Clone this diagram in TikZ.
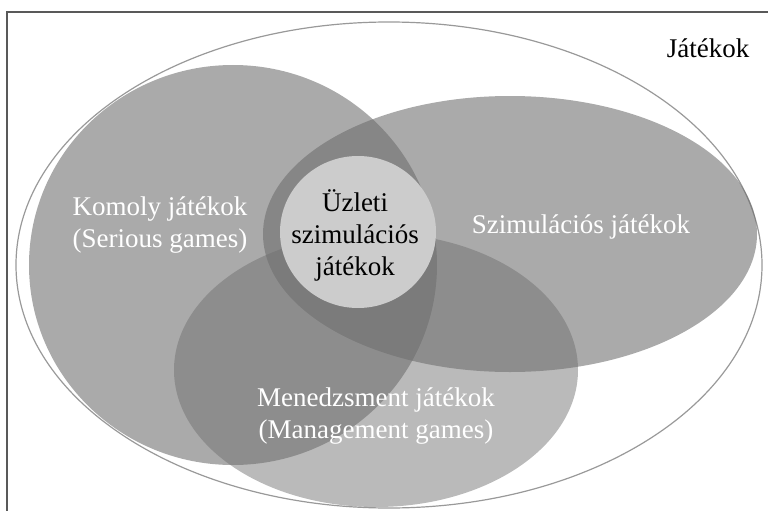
\documentclass[tikz,border=0pt]{standalone}
\usepackage{fontspec}
\setmainfont{Liberation Serif}
\usepackage{tikz}

\tikzset{
  halmaz/.style={fill=black!57, fill opacity=0.59},
  felirat/.style={align=center, font=\fontsize{27}{32}\selectfont, inner sep=0pt},
}

\begin{document}
\begin{tikzpicture}[x=1pt,y=-1pt]
	\useasboundingbox (0,0) rectangle (768,511);
	\draw[black!65, line width=1.5pt] (7,511) -- (7,12) -- (768,12);
	
	% a nagy halmaz
	\draw[black!40, line width=1.2pt] (389,265) ellipse [x radius=373, y radius=243];
	
	\fill[halmaz] (233,265) ellipse [x radius=204, y radius=200];
	\fill[halmaz] (510,234) ellipse [x radius=247, y radius=138];
	\fill[halmaz, fill opacity=0.48] (376,370) ellipse [x radius=202, y radius=137];
	\fill[black!20] (358,232) ellipse [x radius=78, y radius=76];
	
	\node[felirat] (jatekok) at (708,48) {Játékok};
	\node[felirat, text=white] (komoly) at (160,225) {Komoly játékok\\(Serious games)};
	\node[felirat, text=white] (szimulacios) at (581,227) {Szimulációs játékok};
	\node[felirat, text=white] (menedzsment) at (376,416) {Menedzsment játékok\\(Management games)};
	\node[felirat] (uzleti) at (355,235) {Üzleti\\szimulációs\\játékok};
\end{tikzpicture}
\end{document}
